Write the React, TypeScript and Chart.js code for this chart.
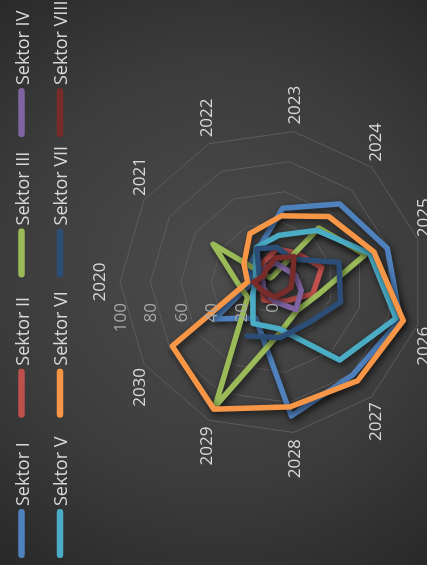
import React, { useEffect, useRef } from "react";
import { Chart, registerables } from "chart.js";

Chart.register(...registerables);

const categories = ["2020", "2021", "2022", "2023", "2024", "2025", "2026", "2027", "2028", "2029", "2030"];
const seriesNames = ["Sektor I", "Sektor II", "Sektor III", "Sektor IV", "Sektor V", "Sektor VI", "Sektor VII", "Sektor VIII"];
const seriesColors = ["#4f81bd", "#c0504d", "#9bbb59", "#8064a2", "#4bacc6", "#f79646", "#2c4d75", "#772c2a"];

const sektorI = [13, 18, 23, 49, 68, 79, 88, 81, 89, 26, 45];
const sektorII = [7, 9, 14, 22, 25, 34, 28, 16, 13, 13, 8];
const sektorIII = [23, 46, 3, 4, 47, 64, 31, 25, 34, 90, 19];
const sektorIV = [6, 8, 10, 13, 12, 16, 20, 24, 13, 8, 7];
const sektorV = [11, 13, 25, 31, 45, 67, 85, 68, 31, 30, 15];
const sektorVI = [16, 22, 35, 44, 57, 70, 90, 86, 83, 92, 78];
const sektorVII = [null, 10, 24, 23, 20, 46, 47, 36, 37, 39, null];
const sektorVIII = [12, 7, 9, 16, 22, 14, 13, 10, 10, 8, 9];

const seriesValues = [sektorI, sektorII, sektorIII, sektorIV, sektorV, sektorVI, sektorVII, sektorVIII];

const axisMin = 0;
const axisMax = 100;
const axisStep = 20;

const FONT = '"Open Sans", "DejaVu Sans", sans-serif';

const backgroundPlugin = {
  id: "bgGradient",
  beforeDraw(chart: any) {
    const { ctx, width, height } = chart;
    ctx.save();
    const g = ctx.createRadialGradient(290, 215, 0, 290, 215, 380);
    g.addColorStop(0, "#4c4c4c");
    g.addColorStop(0.55, "#3c3c3c");
    g.addColorStop(1, "#262626");
    ctx.fillStyle = g;
    ctx.fillRect(0, 0, width, height);
    ctx.restore();
  },
};

const shadowPlugin = {
  id: "lineShadow",
  beforeDatasetsDraw(chart: any) {
    const ctx = chart.ctx;
    ctx.save();
    ctx.shadowColor = "rgba(0,0,0,0.65)";
    ctx.shadowBlur = 7;
    ctx.shadowOffsetX = -3;
    ctx.shadowOffsetY = 2;
  },
  afterDatasetsDraw(chart: any) {
    chart.ctx.restore();
  },
};

const labelsPlugin = {
  id: "radarTexts",
  afterDraw(chart: any) {
    const ctx = chart.ctx;
    const s = chart.scales.r;
    ctx.save();
    // tick labels
    ctx.font = "17px " + FONT;
    ctx.fillStyle = "#a6a6a6";
    ctx.textAlign = "right";
    ctx.textBaseline = "middle";
    s.ticks.forEach((t: any) => {
      const r = s.getDistanceFromCenterForValue(t.value);
      ctx.fillText(t.label, s.xCenter - 21, s.yCenter - r + 1);
    });
    // category labels
    ctx.fillStyle = "#d9d9d9";
    ctx.textAlign = "center";
    (chart.data.labels as string[]).forEach((lab: string, i: number) => {
      const p = s.getPointPosition(i, s.drawingArea);
      const dx = Math.cos(p.angle);
      const dy = Math.sin(p.angle);
      const w = ctx.measureText(lab).width;
      let cx = p.x + dx * 7;
      let cy = p.y + dy * 6;
      if (Math.abs(dx) < 0.01) {
        cy = p.y + dy * 21;
      } else {
        cx += Math.sign(dx) * (w / 2);
      }
      ctx.fillText(lab, cx, cy + 1);
    });
    // legend
    ctx.font = "18px " + FONT;
    ctx.textAlign = "left";
    ctx.textBaseline = "alphabetic";
    chart.data.datasets.forEach((ds: any, i: number) => {
      const col = i % 4;
      const row = Math.floor(i / 4);
      const x = 7 + col * 140.3;
      const y = 21.5 + row * 38.5;
      ctx.strokeStyle = ds.borderColor;
      ctx.lineWidth = 6.5;
      ctx.lineCap = "round";
      ctx.beginPath();
      ctx.moveTo(x + 3.25, y);
      ctx.lineTo(x + 49 - 3.25, y);
      ctx.stroke();
      ctx.fillStyle = "#d9d9d9";
      ctx.fillText(ds.label, x + 52, y + 7);
    });
    ctx.restore();
  },
};

export default function App() {
  const ref = useRef<HTMLCanvasElement | null>(null);

  useEffect(() => {
    document.body.style.margin = "0";
    const canvas = ref.current;
    if (!canvas) return;
    const chart = new Chart(canvas, {
      type: "radar",
      data: {
        labels: categories,
        datasets: seriesNames.map((name, i) => ({
          label: name,
          data: seriesValues[i],
          borderColor: seriesColors[i],
          backgroundColor: seriesColors[i],
          borderWidth: 5.5,
          fill: false,
          pointRadius: 0,
          pointHoverRadius: 0,
          tension: 0,
          spanGaps: false,
          borderJoinStyle: "round",
          borderCapStyle: "round",
          order: seriesNames.length - i,
        })),
      },
      options: {
        responsive: false,
        animation: false,
        devicePixelRatio: 1,
        layout: { padding: { left: 131, right: 130, top: 120, bottom: 3 } },
        plugins: {
          legend: { display: false },
          tooltip: { enabled: false },
        },
        scales: {
          r: {
            min: axisMin,
            max: axisMax,
            ticks: { stepSize: axisStep, display: false },
            pointLabels: { display: false },
            grid: { color: "#5c5c5c", lineWidth: 1 },
            angleLines: { display: false },
          },
        },
      } as any,
      plugins: [backgroundPlugin, shadowPlugin, labelsPlugin],
    });
    return () => chart.destroy();
  }, []);

  return (
    <div style={{ position: "fixed", left: 0, top: 0, width: 427, height: 565, overflow: "hidden", background: "#333" }}>
      <div
        style={{
          position: "absolute",
          left: 0,
          top: 0,
          width: 565,
          height: 427,
          transformOrigin: "0 0",
          transform: "rotate(-90deg) translateX(-565px)",
        }}
      >
        <canvas ref={ref} width={565} height={427} style={{ display: "block", width: 565, height: 427 }} />
      </div>
    </div>
  );
}
